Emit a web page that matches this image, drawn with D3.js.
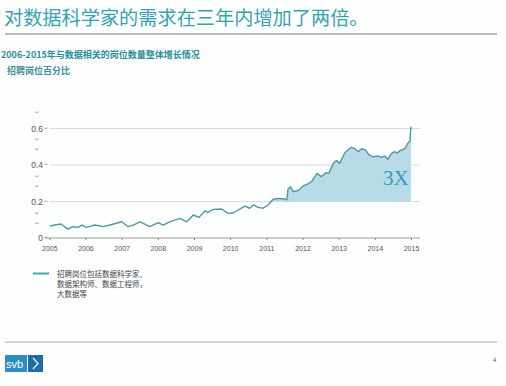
<!DOCTYPE html>
<html>
<head>
<meta charset="utf-8">
<script src="https://cdn.jsdelivr.net/npm/d3@7"></script>
<style>
  body { margin: 0; background: #fdfefe; }
  svg { display: block; }
  .cjk { font-family: "Noto Sans CJK SC", "Noto Sans", sans-serif; }
  .tick text { font-family: "Liberation Sans", Arial, sans-serif; }
  .pmark { font-family: "DejaVu Sans", sans-serif; }
</style>
</head>
<body>
<div class="chart"></div>
<script>
// share of job postings (data related roles)
const years = [2005.02, 2005.16, 2005.32, 2005.52, 2005.65, 2005.80, 2005.90, 2006.03, 2006.26, 2006.49,
    2006.68, 2007.00, 2007.18, 2007.32, 2007.51, 2007.78, 2008.01, 2008.15, 2008.33, 2008.61,
    2008.80, 2008.98, 2009.14, 2009.30, 2009.38, 2009.53, 2009.76, 2009.94, 2010.08, 2010.41,
    2010.54, 2010.64, 2010.77, 2010.91, 2011.05, 2011.19, 2011.33, 2011.51, 2011.57, 2011.60,
    2011.67, 2011.74, 2011.88, 2012.02, 2012.15, 2012.25, 2012.34, 2012.40, 2012.52, 2012.64,
    2012.73, 2012.85, 2012.94, 2013.03, 2013.17, 2013.35, 2013.44, 2013.54, 2013.63, 2013.75,
    2013.84, 2013.95, 2014.09, 2014.18, 2014.27, 2014.36, 2014.46, 2014.55, 2014.61, 2014.69,
    2014.83, 2014.92, 2014.97, 2014.99, 2015.00]
const values = [0.066, 0.071, 0.077, 0.049, 0.062, 0.058, 0.071, 0.058, 0.071, 0.062,
    0.071, 0.089, 0.062, 0.071, 0.089, 0.062, 0.084, 0.071, 0.088, 0.108,
    0.089, 0.126, 0.113, 0.148, 0.140, 0.157, 0.159, 0.135, 0.137, 0.175,
    0.163, 0.181, 0.168, 0.163, 0.181, 0.212, 0.217, 0.214, 0.210, 0.268,
    0.281, 0.254, 0.260, 0.285, 0.296, 0.309, 0.336, 0.354, 0.336, 0.358,
    0.355, 0.409, 0.424, 0.409, 0.467, 0.497, 0.490, 0.473, 0.489, 0.480,
    0.455, 0.445, 0.449, 0.442, 0.450, 0.431, 0.464, 0.473, 0.465, 0.478,
    0.490, 0.522, 0.530, 0.590, 0.610]

const xTicks = [2005, 2006, 2007, 2008, 2009, 2010, 2011, 2012, 2013, 2014, 2015]
const yTicks = [0, 0.2, 0.4, 0.6]
const fillFrom = 2011.1   // shaded "3X" growth region starts here
const fillBase = 0.2

// empty paragraph marks left between the y labels in the source slide
const markLevels = [0.69, 0.54, 0.486, 0.34, 0.285, 0.139, 0.084]

const titleText = "对数据科学家的需求在三年内增加了两倍。"
const subTitle = "2006-2015年与数据相关的岗位数量整体增长情况"
const unitText = "招聘岗位百分比"
const legendLines = ["招聘岗位包括数据科学家、", "数据架构师、数据工程师，", "大数据等"]

const data = years.map((d, i) => ({year: d, value: values[i]}))

const W = 506, H = 386
const svg = d3.select(".chart").append("svg")
    .attr("width", W)
    .attr("height", H)

// header
svg.append("text")
    .attr("class", "cjk")
    .attr("x", 4).attr("y", 25)
    .attr("fill", "#35a2b4")
    .attr("font-size", 19.2)
    .text(titleText)

svg.append("line")
    .attr("x1", 5).attr("x2", 497)
    .attr("y1", 34).attr("y2", 34)
    .attr("stroke", "#b9bcbe").attr("stroke-width", 2)

svg.append("text")
    .attr("class", "cjk")
    .attr("x", 1).attr("y", 58)
    .attr("fill", "#2a8d9c")
    .attr("font-size", 9)
    .attr("font-weight", "bold")
    .text(subTitle)

svg.append("text")
    .attr("class", "cjk")
    .attr("x", 7).attr("y", 74)
    .attr("fill", "#3d8f9b")
    .attr("font-size", 9)
    .attr("font-weight", "bold")
    .text(unitText)

// scales
const xScale = d3.scaleLinear().domain([2005, 2015]).range([49.3, 411])
const yScale = d3.scaleLinear().domain([0, 0.6]).range([238, 128.5])

const g = svg.append("g")

// gridlines
g.selectAll(".grid")
    .data(yTicks.slice(1))
    .join("line")
    .attr("class", "grid")
    .attr("x1", 50).attr("x2", 420)
    .attr("y1", d => yScale(d)).attr("y2", d => yScale(d))
    .attr("stroke", "#dadada").attr("stroke-width", 1)

// shaded area
const area = d3.area()
    .x(d => xScale(d.year))
    .y0(yScale(fillBase))
    .y1(d => yScale(Math.max(d.value, fillBase)))

g.append("path")
    .datum(data.filter(d => d.year >= fillFrom))
    .attr("d", area)
    .attr("fill", "#b8dbe7")

// line
const line = d3.line()
    .x(d => xScale(d.year))
    .y(d => yScale(d.value))

g.append("path")
    .datum(data)
    .attr("d", line)
    .attr("fill", "none")
    .attr("stroke", "#4e9a9e")
    .attr("stroke-width", 1.4)
    .attr("stroke-linejoin", "round")

// x axis
const xAxis = d3.axisBottom(xScale)
    .tickValues(xTicks)
    .tickFormat(d3.format("d"))
    .tickSize(2)
    .tickPadding(6)

const xAxisGroup = g.append("g")
    .attr("class", "axis x-axis")
    .attr("transform", "translate(0," + yScale(0) + ")")
    .call(xAxis)

xAxisGroup.select(".domain")
    .attr("d", "M45,0H420")
    .attr("stroke", "#9a9a9a")
xAxisGroup.selectAll(".tick line").attr("stroke", "#888")
xAxisGroup.selectAll(".tick text")
    .attr("font-size", 7)
    .attr("fill", "#555")

// y axis labels (no axis line)
const yAxis = d3.axisLeft(yScale)
    .tickValues(yTicks)
    .tickFormat(d => d === 0 ? "0" : d3.format(".1f")(d))
    .tickSize(0)
    .tickPadding(0)

const yAxisGroup = g.append("g")
    .attr("class", "axis y-axis")
    .attr("transform", "translate(43,0)")
    .call(yAxis)
yAxisGroup.select(".domain").remove()
yAxisGroup.selectAll(".tick text")
    .attr("font-size", 8.5)
    .attr("fill", "#555")

g.selectAll(".pmark.mid")
    .data(markLevels)
    .join("text")
    .attr("class", "pmark mid")
    .attr("x", 35)
    .attr("y", d => yScale(d) + 2)
    .attr("font-size", 5)
    .attr("fill", "#999")
    .text("↵")
g.selectAll(".pmark.end")
    .data(yTicks)
    .join("text")
    .attr("class", "pmark end")
    .attr("x", 44)
    .attr("y", d => yScale(d) + 1)
    .attr("font-size", 5)
    .attr("fill", "#999")
    .text("↵")

// "3X" annotation
g.append("text")
    .attr("x", 383).attr("y", 185)
    .attr("font-family", "Liberation Serif, Times New Roman, serif")
    .attr("font-size", 21)
    .attr("fill", "#2aa0c3")
    .text("3X")

// legend
svg.append("line")
    .attr("x1", 33).attr("x2", 49)
    .attr("y1", 273.5).attr("y2", 273.5)
    .attr("stroke", "#4aa5a5").attr("stroke-width", 2)

svg.selectAll(".legend-text")
    .data(legendLines)
    .join("text")
    .attr("class", "cjk legend-text")
    .attr("x", 57)
    .attr("y", (d, i) => 276.5 + i * 10)
    .attr("font-size", 7.5)
    .attr("fill", "#444")
    .text(d => d)

// footer
svg.append("line")
    .attr("x1", 5).attr("x2", 497)
    .attr("y1", 342).attr("y2", 342)
    .attr("stroke", "#c4c6c8").attr("stroke-width", 1.5)

svg.append("rect")
    .attr("x", 5).attr("y", 355).attr("width", 22).attr("height", 17)
    .attr("fill", "#2d8dc2")
svg.append("rect")
    .attr("x", 28).attr("y", 355).attr("width", 15).attr("height", 17)
    .attr("fill", "#1f6ea3")
svg.append("text")
    .attr("x", 6).attr("y", 368)
    .attr("font-family", "Liberation Sans, Arial, sans-serif")
    .attr("font-size", 11)
    .attr("fill", "#fff")
    .text("svb")
svg.append("path")
    .attr("d", "M33,358L38,363.5L33,369")
    .attr("fill", "none")
    .attr("stroke", "#cfe6f3")
    .attr("stroke-width", 1.5)

svg.append("text")
    .attr("x", 493).attr("y", 362)
    .attr("font-family", "Liberation Sans, Arial, sans-serif")
    .attr("font-size", 6)
    .attr("fill", "#555")
    .text("4")
</script>
</body>
</html>
